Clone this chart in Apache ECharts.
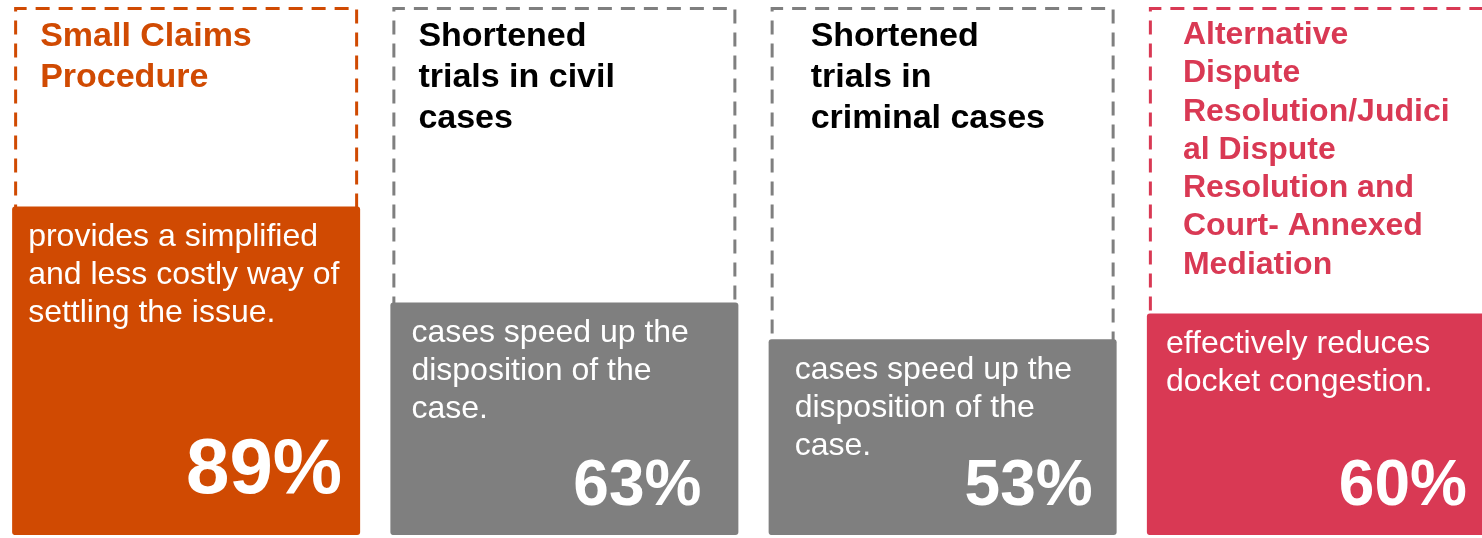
<!DOCTYPE html>
<html>
<head>
<meta charset="utf-8">
<script src="https://cdn.jsdelivr.net/npm/echarts@6/dist/echarts.min.js"></script>
<style>
html,body{margin:0;padding:0;background:#fff;overflow:hidden;width:1482px;height:538px;}
#chart{position:absolute;left:-3px;top:0;width:1513px;height:538px;}
</style>
</head>
<body>
<div id="chart"></div>
<script>
// ---- data ----
const categories = ['Small Claims Procedure', 'Shortened trials in civil cases', 'Shortened trials in criminal cases', 'ADR/JDR and Court-Annexed Mediation'];
const percentValues = [89, 63, 53, 60];
const titles = [
  'Small Claims\nProcedure',
  'Shortened\ntrials in civil\ncases',
  'Shortened\ntrials in\ncriminal cases',
  'Alternative\nDispute\nResolution/Judici\nal Dispute\nResolution and\nCourt- Annexed\nMediation'
];
const descriptions = [
  'provides a simplified\nand less costly way of\nsettling the issue.',
  'cases speed up the\ndisposition of the\ncase.',
  'cases speed up the\ndisposition of the\ncase.',
  'effectively reduces\ndocket congestion.'
];
const axisMax = 143;

// ---- styles ----
const fillColors = ['#D04A02', '#7F7F7F', '#7F7F7F', '#D93954'];
const titleColors = ['#D04A02', '#000000', '#000000', '#D93954'];
const titleFont = [34, 34, 34, 32];
const titleLH = [41, 41, 41, 38.3];
const titleDx = [-2, -2, 12, 6];
const descDx = [-4, 1, 6, -1];
const pctDx = [2, -10, 3, -1];
const pctFont = [78, 64, 64, 64];
const FONT = '"Liberation Sans", Arial, Helvetica, sans-serif';

const chart = echarts.init(document.getElementById('chart'), null, {renderer: 'canvas'});

const option = {
  animation: false,
  backgroundColor: '#ffffff',
  grid: {left: 0, right: 0, top: 7, bottom: 3, containLabel: false},
  xAxis: [
    {type: 'category', data: categories, show: false},
    {type: 'category', data: categories, show: false}
  ],
  yAxis: {type: 'value', min: 0, max: axisMax, show: false},
  series: [
    {
      // dashed frame behind each bar, spanning the full height of the panel
      type: 'bar', xAxisIndex: 1, barWidth: 344, silent: true, z: 2,
      data: percentValues.map((v, i) => ({
        value: axisMax,
        itemStyle: {
          color: 'rgba(255,255,255,0)',
          borderColor: fillColors[i], borderWidth: 3, borderType: [14, 9]
        },
        label: {
          show: true, position: 'insideTopLeft', distance: 9, offset: [titleDx[i] + 19, 0],
          formatter: titles[i], color: titleColors[i], fontFamily: FONT,
          fontWeight: 'bold', fontSize: titleFont[i], lineHeight: titleLH[i]
        }
      }))
    },
    {
      type: 'bar', xAxisIndex: 0, barWidth: 348, barGap: '-100%', silent: true, z: 3,
      data: percentValues.map((v, i) => ({
        value: v,
        itemStyle: {color: fillColors[i], borderRadius: 3},
        label: {
          show: true, position: 'insideTopLeft', distance: 12, offset: [8 + descDx[i], 0],
          formatter: descriptions[i], color: '#ffffff', fontFamily: FONT,
          fontSize: 32, lineHeight: 38
        }
      }))
    },
    {
      type: 'bar', xAxisIndex: 0, barWidth: 348, barGap: '-100%', silent: true, z: 4,
      itemStyle: {color: 'transparent'},
      data: percentValues.map((v, i) => ({
        value: v,
        label: {
          show: true, position: 'insideBottomRight',
          distance: i === 0 ? 20 : 16,
          offset: i === 0 ? [pctDx[i], -5] : [-11 + pctDx[i], 0],
          formatter: '{c}%', color: '#ffffff', fontFamily: FONT,
          fontWeight: 'bold', fontSize: pctFont[i], lineHeight: pctFont[i]
        }
      }))
    }
  ]
};
chart.setOption(option);
</script>
</body>
</html>
